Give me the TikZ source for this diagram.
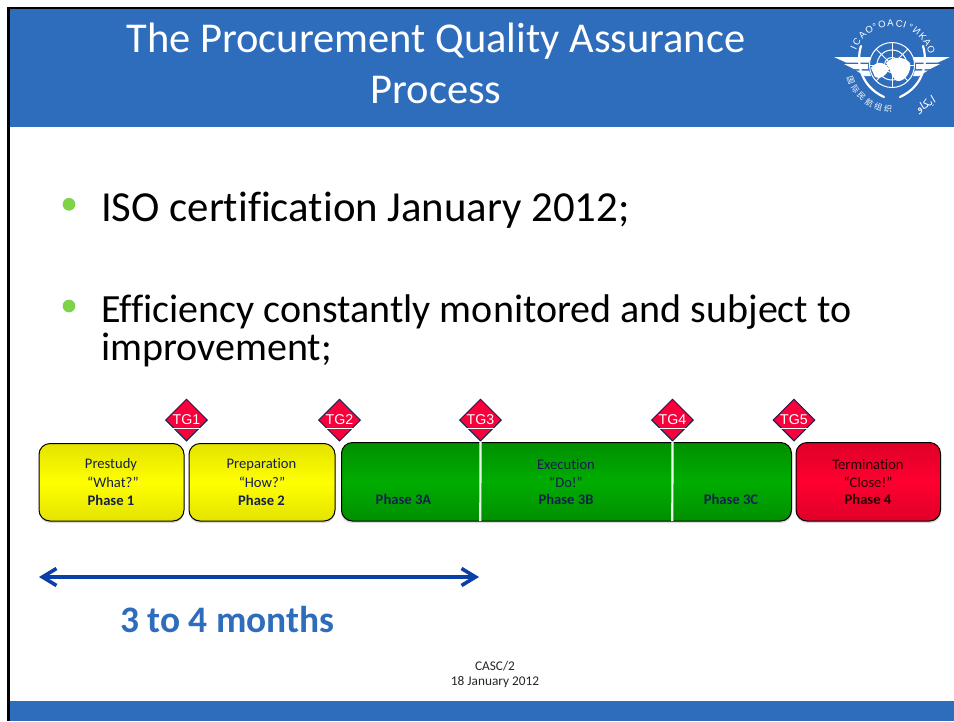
\documentclass[tikz,border=0pt]{standalone}
\usepackage{fontspec}
\setmainfont{Carlito}[Ligatures=NoCommon]
\newfontfamily\arialfont{Liberation Sans}
\newfontfamily\cjkfont{Noto Sans CJK SC}
\newfontfamily\arabicfont[Script=Arabic]{DejaVu Sans}
\TeXXeTstate=1
\usetikzlibrary{arrows.meta,shapes.geometric,calc}
\definecolor{hdrblue}{HTML}{2E6CBC}
\definecolor{bulgreen}{HTML}{7ED348}
\definecolor{arrblue}{HTML}{0B3FA8}
\definecolor{navy}{HTML}{15204F}
\definecolor{tgred}{HTML}{F8003C}
\definecolor{yellowedge}{HTML}{E3E300}
\definecolor{yellowmid}{HTML}{FFFF00}
\definecolor{greenedge}{HTML}{008F00}
\definecolor{greenmid}{HTML}{00AD00}
\definecolor{rededge}{HTML}{DE0028}
\definecolor{redmid}{HTML}{FF0030}
\tikzset{
  band/.style={fill=hdrblue,draw=none},
  frameline/.style={draw=black,line width=2.4pt},
  phase/.style={draw=black,line width=1pt,rounded corners=11pt},
  yellowbox/.style={phase,top color=yellowedge,bottom color=yellowedge,middle color=yellowmid},
  greenbox/.style={phase,top color=greenedge,bottom color=greenedge,middle color=greenmid},
  redbox/.style={phase,top color=rededge,bottom color=rededge,middle color=redmid},
  boxshadow/.style={fill=black!15,draw=none,rounded corners=11pt},
  boxtext/.style={font=\fontsize{14.6}{16}\selectfont,text=navy,inner sep=0pt,anchor=center},
  termtext/.style={boxtext,text=black!85!red},
  titletext/.style={font=\fontsize{42.5}{44}\selectfont,text=white,inner sep=0pt,anchor=base},
  bodytext/.style={font=\fontsize{40}{44}\selectfont,text=black,inner sep=0pt,anchor=base west},
  bodybig/.style={bodytext,font=\fontsize{42.8}{44}\selectfont},
  bulletdot/.style={circle,fill=bulgreen,draw=none,minimum size=12.7pt,inner sep=0pt},
  tgdiamond/.style={diamond,aspect=1,fill=tgred,draw=navy,line width=1pt,minimum size=42pt,inner sep=0pt,
     font=\arialfont\fontsize{14.2}{14}\selectfont,text=white},
  divider/.style={draw=white!92!green,line width=2.2pt},
  span/.style={draw=arrblue,line width=3.2pt,{Straight Barb[length=14pt,width=17pt,line width=3.6pt]}-{Straight Barb[length=14pt,width=17pt,line width=3.6pt]}},
  smalltext/.style={font=\fontsize{13.3}{16}\selectfont,text=black!85,inner sep=0pt},
  logo/.style={fill=white,draw=none},
  logoline/.style={draw=white,line width=1pt},
  logoletter/.style={font=\arialfont\fontsize{9.5}{10}\selectfont,text=white,inner sep=0pt},
}
\begin{document}
\begin{tikzpicture}[x=1pt,y=-1pt]
\useasboundingbox (0,0) rectangle (954,721);
\fill[white] (0,0) rectangle (954,721);
% bands and frame
\fill[band] (9,8) rectangle (954,127);
\fill[band] (9,701) rectangle (954,721);
\draw[frameline] (8.5,721) -- (8.5,8) -- (954,8);
% title
\node[titletext] (title1) at (436,52) {The Procurement Quality Assurance};
\node[titletext] (title2) at (436,103) {Process};
% bullets
\node[bulletdot] (b1) at (69,204.3) {};
\node[bodybig] (t1) at (101,221) {ISO certification January 2012;};
\node[bulletdot] (b2) at (69,306) {};
\node[bodytext] (t2) at (101,322) {Efficiency constantly monitored and subject to};
\node[bodytext] (t3) at (101,360) {improvement;};
% phase boxes
\fill[boxshadow] (39,445) rectangle (184,523);
\fill[boxshadow] (189,445) rectangle (335,523);
\fill[boxshadow] (341,444) rectangle (792,523);
\fill[boxshadow] (796,444) rectangle (941,523);
\path[yellowbox] (39,443.5) rectangle (184,521);
\path[yellowbox] (189,443.5) rectangle (335,521);
\path[greenbox] (341.5,442.5) rectangle (791.5,521);
\path[redbox] (796,442.5) rectangle (940.5,521);
% TG diamonds
\node[tgdiamond] (tg1) at (186.5,420) {TG1};
\node[tgdiamond] (tg2) at (339.5,420) {TG2};
\node[tgdiamond] (tg3) at (480.5,420) {TG3};
\node[tgdiamond] (tg4) at (672.5,420) {TG4};
\node[tgdiamond] (tg5) at (794,420) {TG5};
\foreach \xx in {186.5,339.5,480.5,672.5,794}
  \draw[white,line width=.9pt] (\xx-14,428.5) -- (\xx+14,428.5);
% dividers
\coordinate (d1) at (480.3,521);
\coordinate (d2) at (672.3,521);
\draw[divider] (tg3.south) -- (d1);
\draw[divider] (tg4.south) -- (d2);
% box text
\node[boxtext] (a1) at (111,464.5) {Prestudy};
\node[boxtext] (a2) at (113,482.5) {“What?”};
\node[boxtext] (a3) at (111,500.5) {\bfseries Phase 1};
\node[boxtext] (c1) at (261.5,464.5) {Preparation};
\node[boxtext] (c2) at (262,482.5) {“How?”};
\node[boxtext] (c3) at (261.5,500.5) {\bfseries Phase 2};
\node[boxtext] (e0) at (403.5,499.5) {\bfseries Phase 3A};
\node[boxtext] (e1) at (566,464.5) {Execution};
\node[boxtext] (e2) at (566,482.5) {“Do!”};
\node[boxtext] (e3) at (566,499.5) {\bfseries Phase 3B};
\node[boxtext] (e4) at (731,499.5) {\bfseries Phase 3C};
\node[termtext] (f1) at (868,464.5) {Termination};
\node[termtext] (f2) at (868,482.5) {“Close!”};
\node[termtext] (f3) at (868,499.5) {\bfseries Phase 4};
% span arrow
\coordinate (s1) at (39,577);
\coordinate (s2) at (479,577);
\draw[span] (s1) -- (s2);
\node[inner sep=0pt,anchor=base,text=hdrblue,font=\fontsize{37.4}{38}\selectfont\bfseries] (months) at (227.5,632) {3 to 4 months};
% footer
\node[smalltext] (f5) at (495,666) {CASC/2};
\node[smalltext] (f6) at (495,682) {18 January 2012};
% logo
\begin{scope}
  % globe
  \draw[logoline] (892,65) circle (22.5);
  \draw[logoline] (892,65) circle (15);
  \draw[logoline] (892,65) circle (7.5);
  \draw[logoline] (869.5,65) -- (914.5,65);
  \draw[logoline] (892,42.5) -- (892,87.5);
  \draw[logoline] (876,49) -- (908,81);
  \draw[logoline] (908,49) -- (876,81);
  % land
  \fill[logo] (871,68) .. controls (877,60) and (885,62) .. (889,69) .. controls (886,76) and (880,80) .. (875,77) -- cycle;
  \fill[logo] (886,63) .. controls (892,56) and (904,56) .. (910,63) .. controls (912,71) and (905,82) .. (897,81) .. controls (891,77) and (891,70) .. (886,63) -- cycle;
  % wings
  \fill[logo] (834,57) -- (871,57) -- (869,62.5) -- (846,62.5) -- cycle;
  \fill[logo] (844,64) -- (868,64) -- (868,69) -- (854,69) -- cycle;
  \fill[logo] (856,70.5) -- (869,70.5) -- (871,76) -- (865,76) -- cycle;
  \fill[logo] (950,57) -- (913,57) -- (915,62.5) -- (938,62.5) -- cycle;
  \fill[logo] (940,64) -- (916,64) -- (916,69) -- (930,69) -- cycle;
  \fill[logo] (928,70.5) -- (915,70.5) -- (913,76) -- (919,76) -- cycle;
  % laurel
  \draw[white,line width=2.2pt,line cap=round] (861,46) .. controls (856,62) and (860,86) .. (884,97);
  \draw[white,line width=2.2pt,line cap=round] (923,46) .. controls (928,62) and (924,86) .. (900,97);
  % lettering around the ring
  \foreach \ch/\ang in {I/-156,C/-147,A/-135,O/-123,°/-114,O/-104,A/-92,C/-80,I/-72,°/-64,И/-54,K/-43,A/-33,O/-22}{
    \node[logoletter,rotate=-\ang-90] at ($(892,65)+(\ang:42)$) {\ch};
  }
  \foreach \ch/\ang in {国/160,际/147,民/134,航/121,组/108,织/95}{
    \node[logoletter,font=\cjkfont\fontsize{8}{9}\selectfont,rotate=-\ang+90] at ($(892,65)+(\ang:44)$) {\ch};
  }
  \node[logoletter,font=\arabicfont\fontsize{11}{11}\selectfont,rotate=30] at (926,105) {\beginR ايكاو\endR};
\end{scope}
\end{tikzpicture}
\end{document}
